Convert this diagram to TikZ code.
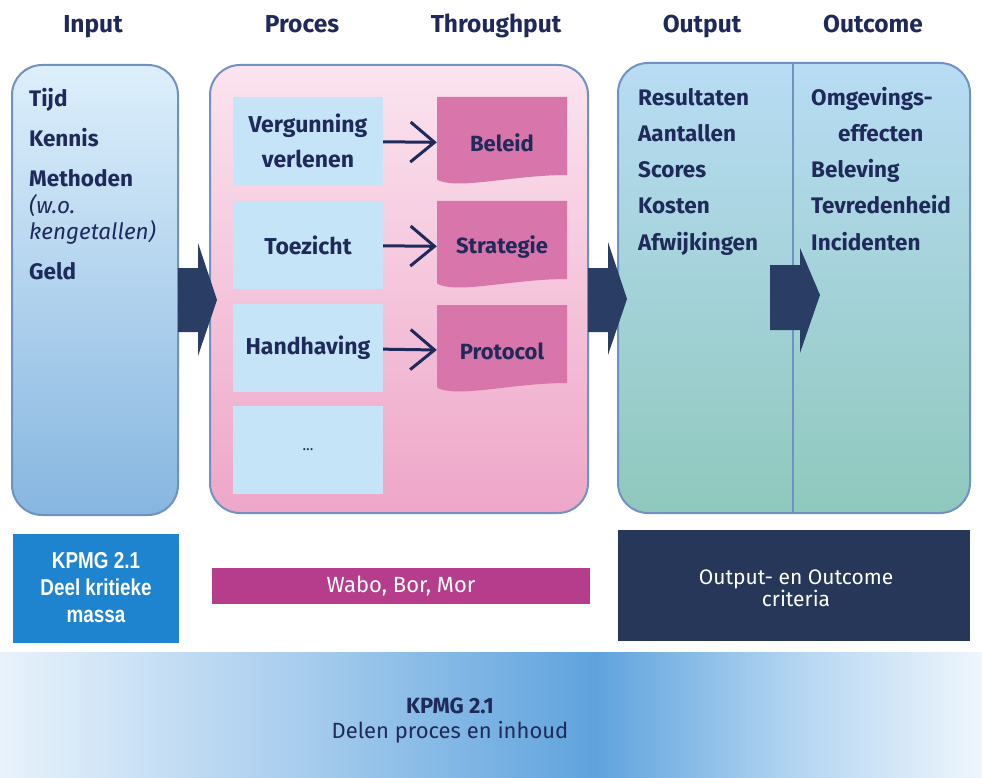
\documentclass[tikz,border=0pt]{standalone}
\usepackage{fontspec}
\setmainfont{Fira Sans}
\newfontfamily\narrowfont[FakeStretch=0.82]{Liberation Sans}
\usepackage{tikz}
\usetikzlibrary{arrows.meta}
\usetikzlibrary{calc}
\definecolor{navy}{HTML}{1F2A5A}
\definecolor{edge}{HTML}{7092C2}
\definecolor{arrownavy}{HTML}{2A3D64}
\definecolor{procblue}{HTML}{C6E4F8}
\definecolor{docpink}{HTML}{D875AA}
\definecolor{kpmgblue}{HTML}{1F84CF}
\definecolor{wabo}{HTML}{B53D8C}
\definecolor{crit}{HTML}{263759}
\definecolor{intop}{HTML}{DDEFFB}
\definecolor{inbot}{HTML}{86B6E0}
\definecolor{pktop}{HTML}{FBE4EF}
\definecolor{pkbot}{HTML}{EEA6C8}
\definecolor{outtop}{HTML}{B8DCF4}
\definecolor{outbot}{HTML}{8FC8BD}
\definecolor{bandA}{HTML}{E8F2FB}
\definecolor{bandB}{HTML}{A8CDEE}
\definecolor{bandC}{HTML}{5FA3DD}
\definecolor{bandD}{HTML}{B5D6F2}
\definecolor{bandE}{HTML}{EFF6FC}
\begin{document}
\begin{tikzpicture}[x=1pt,y=-1pt,%Input - Proces - Output - Outcome
 head/.style={font=\fontsize{24.5}{28}\selectfont\bfseries,text=navy,inner sep=0pt,anchor=base},
 item/.style={font=\fontsize{22.5}{26}\selectfont\bfseries,text=navy,anchor=base west,inner sep=0pt},
 frame/.style={draw=edge,line width=2pt,rounded corners=30pt},
 procbox/.style={fill=procblue,minimum width=150pt,minimum height=88pt,inner sep=0pt,align=center,
   font=\fontsize{23}{35}\selectfont\bfseries,text=navy},
 doctext/.style={minimum width=130pt,inner sep=0pt,font=\fontsize{22}{26}\selectfont\bfseries,text=navy},
 flow/.style={draw=navy,line width=3pt,-{Straight Barb[length=24pt,width=40pt,line width=3pt]}},
 bigarrow/.style={fill=arrownavy}]
\useasboundingbox (0,0) rectangle (982,778);
% headings
\foreach \x/\t in {93/Input,302/Proces,496/Throughput,702/Output,873/Outcome}
 {\node[head] (h\t) at (\x,33) {\t};}
% frames
\draw[frame,top color=intop,bottom color=inbot] (12,65) rectangle (178,515);
\draw[frame,top color=pktop,bottom color=pkbot] (210,65) rectangle (588,513);
\draw[frame,top color=outtop,bottom color=outbot] (618,63) rectangle (970,513);
\draw[edge,line width=2pt] (793,63) -- (793,513);
% input
\foreach \y/\t [count=\i] in {107/Tijd,147/Kennis,187/Methoden,279/Geld}
 {\node[item] (in\i) at (29,\y) {\t};}
\node[item,font=\fontsize{22.5}{26}\selectfont\itshape] (wo1) at (29,213) {(w.o.};
\node[item,font=\fontsize{22.5}{26}\selectfont\itshape] (wo2) at (29,239) {kengetallen)};
% proces and throughput
\node[procbox] (p1) at (308,141) {Vergunning\\verlenen};
\node[procbox] (p2) at (308,245) {Toezicht};
\node[procbox] (p3) at (308,348) {Handhaving};
\node[procbox,font=\fontsize{15}{18}\selectfont] (p4) at (308,450) {...};
\foreach \y/\t [count=\n] in {143/Beleid,247/Strategie,351/Protocol}
 {\fill[docpink] (437,\y-46) -- (567,\y-46) -- (567,\y+32) .. controls (515,\y+32) and (462,\y+46) .. (440,\y+38) .. controls (437,\y+37) .. (437,\y+34) -- cycle;
  \node[doctext] (t\n) at (502,\y) {\t};
  \draw[flow] (p\n) -- (t\n);}
% output and outcome
\foreach \t [count=\i] in {Resultaten,Aantallen,Scores,Kosten,Afwijkingen}
 {\node[item] (o\i) at (638,70+36*\i) {\t};}
\node[item] (oc1) at (811,106) {Omgevings-};
\node[item] (oc2) at (838,142) {effecten};
\node[item] (oc3) at (811,178) {Beleving};
\node[item] (oc4) at (811,214) {Tevredenheid};
\node[item] (oc5) at (811,250) {Incidenten};
% block arrows
\fill[bigarrow] (178,268) -- (198,268) -- (198,243) -- (217,300) -- (198,356) -- (198,332) -- (178,332) -- cycle;
\fill[bigarrow] (588,268) -- (608,268) -- (608,242) -- (627,299) -- (608,355) -- (608,332) -- (588,332) -- cycle;
\fill[bigarrow] (770,265) -- (800,265) -- (800,248) -- (820,295) -- (800,353) -- (800,330) -- (770,330) -- cycle;
% bottom
\fill[kpmgblue] (13,534) rectangle (179,643);
\node[text=white,align=center,font=\narrowfont\fontsize{23}{27}\selectfont\bfseries] (kpmg) at (96,588) {KPMG 2.1\\Deel kritieke\\massa};
\fill[wabo] (212,568) rectangle (590,604);
\node[text=white,font=\fontsize{22}{24}\selectfont] (wbm) at (401,586) {Wabo, Bor, Mor};
\fill[crit] (618,530) rectangle (970,641);
\node[text=white,align=center,font=\fontsize{21}{22}\selectfont] (crit) at (796,588) {Output- en Outcome\\criteria};
\shade[left color=bandA,right color=bandB] (0,652) rectangle (300,778);
\shade[left color=bandB,right color=bandC] (300,652) rectangle (595,778);
\shade[left color=bandC,right color=bandD] (595,652) rectangle (800,778);
\shade[left color=bandD,right color=bandE] (800,652) rectangle (982,778);
\node[text=navy,align=center,font=\fontsize{22}{25}\selectfont] (share) at (450,721) {\textbf{KPMG 2.1}\\Delen proces en inhoud};
\end{tikzpicture}
\end{document}
